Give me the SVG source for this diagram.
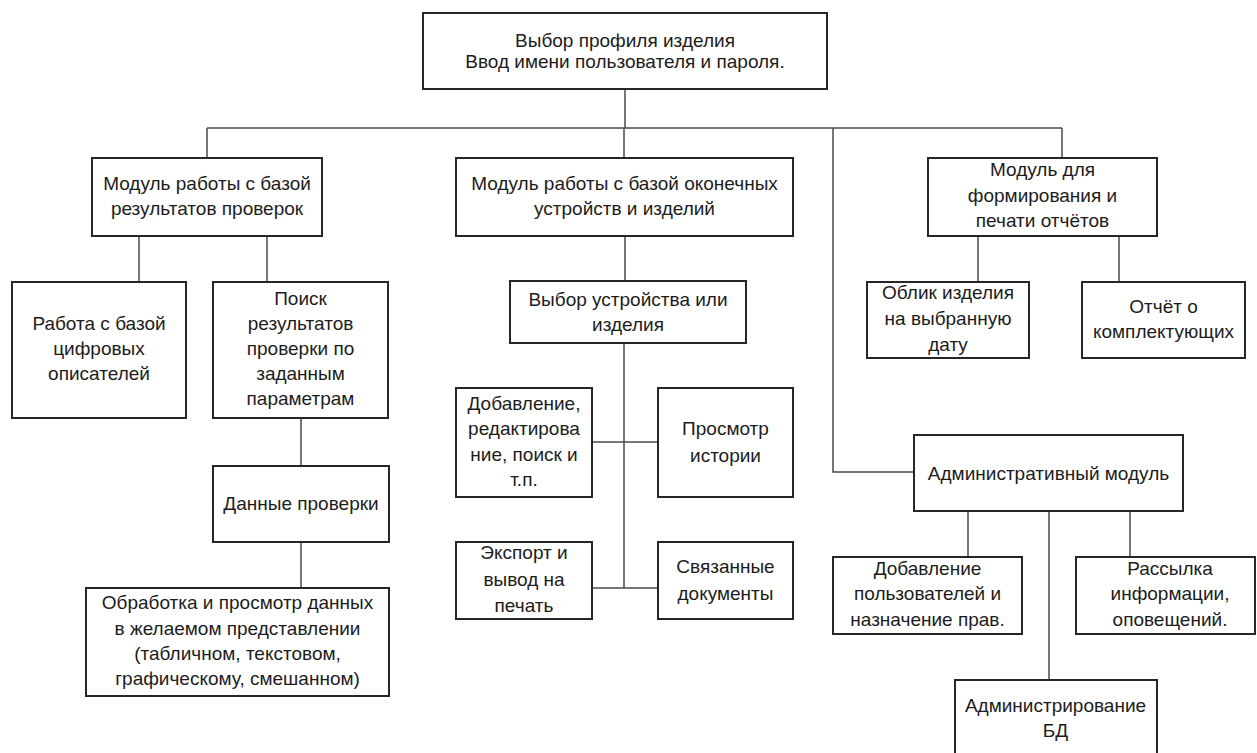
<svg xmlns="http://www.w3.org/2000/svg" width="1257" height="753" viewBox="0 0 1257 753">
  <style>
    .box { fill: #ffffff; stroke: #262626; stroke-width: 2; }
    .wire { fill: none; stroke: #4a4a4a; stroke-width: 1.5; }
    text { font-family: "Liberation Sans", Arial, sans-serif; font-size: 19px; fill: #1c1c1c; text-anchor: middle; }
  </style>
  <rect width="1257" height="753" fill="#ffffff"/>

  <!-- connectors -->
  <g id="connectors" class="wire">
    <path d="M625 89 V128"/>
    <path d="M207 128 H1062"/>
    <path d="M207 128 V158"/>
    <path d="M624 128 V158"/>
    <path d="M1062 128 V158"/>
    <path d="M833 128 V472 H914"/>
    <path d="M139 236 V282"/>
    <path d="M267 236 V282"/>
    <path d="M301 418 V466"/>
    <path d="M301 542 V588"/>
    <path d="M625 236 V281"/>
    <path d="M624 343 V588"/>
    <path d="M592 442 H658"/>
    <path d="M592 588 H658"/>
    <path d="M978 236 V282"/>
    <path d="M1119 236 V282"/>
    <path d="M968 511 V557"/>
    <path d="M1049 511 V680"/>
    <path d="M1130 511 V557"/>
  </g>

  <g id="login">
    <rect class="box" x="423" y="13" width="404" height="76"/>
    <text x="625" y="47">Выбор профиля изделия</text>
    <text x="625" y="68">Ввод имени пользователя и пароля.</text>
  </g>

  <g id="checks-module">
    <rect class="box" x="92" y="158" width="230" height="78"/>
    <text x="207" y="190">Модуль работы с базой</text>
    <text x="207" y="215">результатов проверок</text>
  </g>

  <g id="devices-module">
    <rect class="box" x="456" y="158" width="337" height="78"/>
    <text x="624.5" y="190">Модуль работы с базой оконечных</text>
    <text x="624.5" y="215">устройств и изделий</text>
  </g>

  <g id="reports-module">
    <rect class="box" x="928" y="158" width="229" height="78"/>
    <text x="1042.5" y="176">Модуль для</text>
    <text x="1042.5" y="202">формирования и</text>
    <text x="1042.5" y="227">печати отчётов</text>
  </g>

  <g id="descriptors">
    <rect class="box" x="12" y="282" width="174" height="136"/>
    <text x="99" y="330">Работа с базой</text>
    <text x="99" y="355">цифровых</text>
    <text x="99" y="380">описателей</text>
  </g>

  <g id="search">
    <rect class="box" x="213" y="282" width="175" height="136"/>
    <text x="300.5" y="305">Поиск</text>
    <text x="300.5" y="330">результатов</text>
    <text x="300.5" y="355">проверки по</text>
    <text x="300.5" y="380">заданным</text>
    <text x="300.5" y="405">параметрам</text>
  </g>

  <g id="check-data">
    <rect class="box" x="213" y="466" width="176" height="76"/>
    <text x="301" y="510">Данные проверки</text>
  </g>

  <g id="processing">
    <rect class="box" x="86" y="588" width="303" height="108"/>
    <text x="237.5" y="609">Обработка и просмотр данных</text>
    <text x="237.5" y="635">в желаемом представлении</text>
    <text x="237.5" y="660">(табличном, текстовом,</text>
    <text x="237.5" y="685">графическому, смешанном)</text>
  </g>

  <g id="device-select">
    <rect class="box" x="510" y="281" width="236" height="62"/>
    <text x="628" y="306">Выбор устройства или</text>
    <text x="628" y="331">изделия</text>
  </g>

  <g id="edit">
    <rect class="box" x="456" y="388" width="136" height="109"/>
    <text x="524" y="410">Добавление,</text>
    <text x="524" y="435">редактирова</text>
    <text x="524" y="461">ние, поиск и</text>
    <text x="524" y="486">т.п.</text>
  </g>

  <g id="history">
    <rect class="box" x="658" y="388" width="135" height="109"/>
    <text x="725.5" y="435">Просмотр</text>
    <text x="725.5" y="462">истории</text>
  </g>

  <g id="export">
    <rect class="box" x="456" y="542" width="136" height="77"/>
    <text x="524" y="559">Экспорт и</text>
    <text x="524" y="586">вывод на</text>
    <text x="524" y="612">печать</text>
  </g>

  <g id="linked-docs">
    <rect class="box" x="658" y="542" width="135" height="77"/>
    <text x="725.5" y="573">Связанные</text>
    <text x="725.5" y="600">документы</text>
  </g>

  <g id="appearance">
    <rect class="box" x="867" y="282" width="162" height="76"/>
    <text x="948" y="299">Облик изделия</text>
    <text x="948" y="325">на выбранную</text>
    <text x="948" y="351">дату</text>
  </g>

  <g id="components">
    <rect class="box" x="1082" y="282" width="163" height="76"/>
    <text x="1163.5" y="313">Отчёт о</text>
    <text x="1163.5" y="338">комплектующих</text>
  </g>

  <g id="admin-module">
    <rect class="box" x="914" y="435" width="269" height="76"/>
    <text x="1048.5" y="480">Административный модуль</text>
  </g>

  <g id="users">
    <rect class="box" x="833" y="557" width="189" height="77"/>
    <text x="927.5" y="575">Добавление</text>
    <text x="927.5" y="600">пользователей и</text>
    <text x="927.5" y="626">назначение прав.</text>
  </g>

  <g id="mailing">
    <rect class="box" x="1076" y="557" width="179" height="77"/>
    <text x="1170" y="575">Рассылка</text>
    <text x="1170" y="600">информации,</text>
    <text x="1170" y="626">оповещений.</text>
  </g>

  <g id="db-admin">
    <rect class="box" x="955" y="680" width="202" height="90"/>
    <text x="1055.5" y="712">Администрирование</text>
    <text x="1055.5" y="737">БД</text>
  </g>
</svg>
